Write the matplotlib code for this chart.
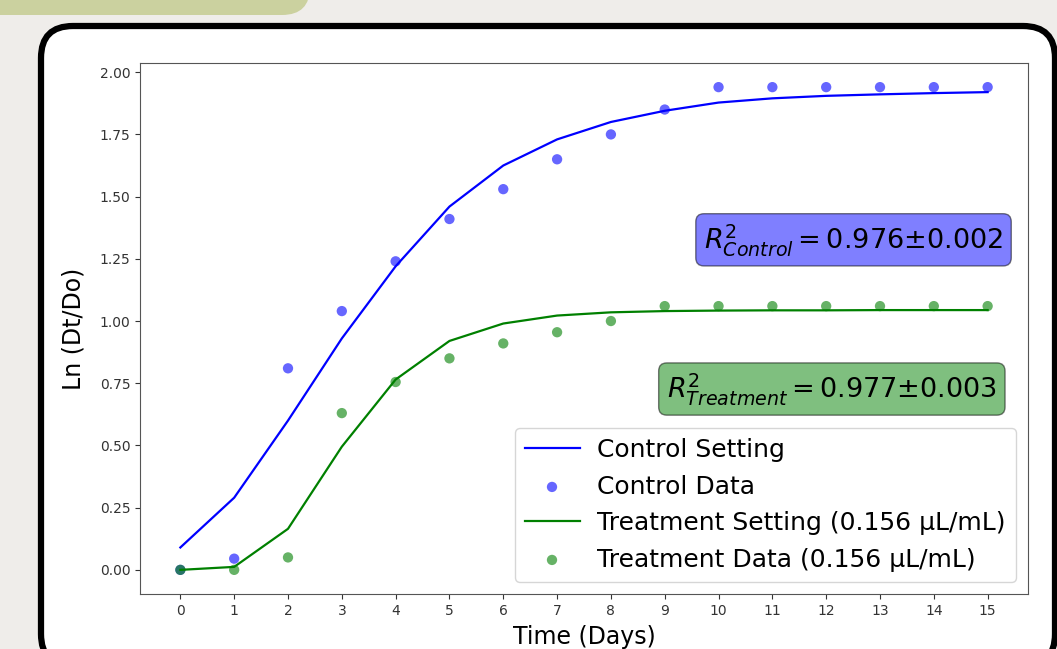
import numpy as np
import matplotlib
matplotlib.use("Agg")
import matplotlib.pyplot as plt
from matplotlib.patches import FancyBboxPatch

# Datos
dias = list(range(16))
control_data = [0.00, 0.045, 0.81, 1.04, 1.24, 1.41, 1.53, 1.65, 1.75, 1.85,
                1.94, 1.94, 1.94, 1.94, 1.94, 1.94]
control_fit = [0.09, 0.29, 0.60, 0.93, 1.22, 1.46, 1.625, 1.73, 1.80, 1.845,
               1.878, 1.895, 1.905, 1.911, 1.916, 1.92]
treat_data = [0.00, 0.00, 0.05, 0.63, 0.755, 0.85, 0.91, 0.955, 1.00, 1.06,
              1.06, 1.06, 1.06, 1.06, 1.06, 1.06]
treat_fit = [0.00, 0.012, 0.165, 0.495, 0.765, 0.92, 0.99, 1.022, 1.035, 1.04,
             1.042, 1.043, 1.043, 1.044, 1.044, 1.044]

r2_control = "$R^2_{Control} = 0.976{\\pm}0.002$"
r2_treat = "$R^2_{Treatment} = 0.977{\\pm}0.003$"

W, H = 1057, 649
fig = plt.figure(figsize=(W / 100, H / 100), dpi=100)
fig.patch.set_facecolor("#efedea")

# Fondo con el marco redondeado (en pixeles)
bg = fig.add_axes([0, 0, 1, 1])
bg.set_xlim(0, W)
bg.set_ylim(H, 0)
bg.axis("off")
bg.add_patch(FancyBboxPatch((-40, -60), 350, 75, boxstyle="round,pad=0,rounding_size=28",
                            facecolor="#cbd19f", edgecolor="none"))
bg.add_patch(FancyBboxPatch((41, 26), 1014, 640, boxstyle="round,pad=0,rounding_size=32",
                            facecolor="white", edgecolor="black", linewidth=4.5))

ax = fig.add_axes([140 / W, 1 - 594 / H, 888 / W, 531 / H])
ax.plot(dias, control_fit, color="blue", linewidth=1.6, label="Control Setting")
ax.scatter(dias, control_data, color="blue", alpha=0.6, s=55, edgecolors="none",
           label="Control Data")
ax.plot(dias, treat_fit, color="green", linewidth=1.6,
        label="Treatment Setting (0.156 µL/mL)")
ax.scatter(dias, treat_data, color="green", alpha=0.6, s=55, edgecolors="none",
           label="Treatment Data (0.156 µL/mL)")

ax.set_xticks(dias)
ax.tick_params(labelsize=10, colors="#333333")
ax.set_xlabel("Time (Days)", fontsize=17, labelpad=5)
ax.set_ylabel("Ln (Dt/Do)", fontsize=17, labelpad=10)
for s in ax.spines.values():
    s.set_color("#555555")

ax.text(0.972, 0.667, r2_control, transform=ax.transAxes, fontsize=19.5,
        ha="right", va="center",
        bbox=dict(boxstyle="round", facecolor="blue", alpha=0.5))
ax.text(0.965, 0.386, r2_treat, transform=ax.transAxes, fontsize=19.5,
        ha="right", va="center",
        bbox=dict(boxstyle="round", facecolor="green", alpha=0.5))

ax.legend(loc="lower right", fontsize=18, handlelength=2.2, handletextpad=0.7)

fig.savefig("out.png", dpi=100)
